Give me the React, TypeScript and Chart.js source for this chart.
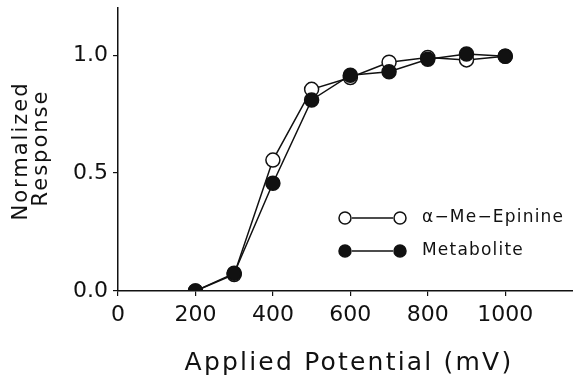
import React, { useEffect, useRef } from "react";
import { Chart, registerables } from "chart.js";

Chart.register(...registerables);

const potentials = [200, 300, 400, 500, 600, 700, 800, 900, 1000];
const epinine = [0, 0.07, 0.555, 0.855, 0.905, 0.97, 0.99, 0.98, 0.995];
const metabolite = [0, 0.075, 0.457, 0.81, 0.915, 0.93, 0.983, 1.005, 0.995];
const xTicks = [0, 200, 400, 600, 800, 1000];
const yTicks = [0, 0.5, 1.0];
const seriesNames = ["\u03b1\u2212Me\u2212Epinine", "Metabolite"];
const xTitle = "Applied Potential (mV)";
const yTitle = ["Normalized", "Response"];

const FONT = "'DejaVu Sans', sans-serif";
const INK = "#111";

const textPlugin = {
  id: "manualText",
  afterDraw(chart: any) {
    const ctx = chart.ctx;
    ctx.save();
    // legend
    const rows = [
      { y: 218, fill: "#fff", label: seriesNames[0] },
      { y: 251, fill: INK, label: seriesNames[1] },
    ];
    rows.forEach((r) => {
      ctx.strokeStyle = INK;
      ctx.lineWidth = 1.5;
      ctx.beginPath();
      ctx.moveTo(352, r.y);
      ctx.lineTo(393, r.y);
      ctx.stroke();
      [345, 400].forEach((cx) => {
        ctx.beginPath();
        ctx.arc(cx, r.y, 6, 0, Math.PI * 2);
        ctx.fillStyle = r.fill;
        ctx.fill();
        ctx.stroke();
      });
      ctx.fillStyle = INK;
      ctx.font = `17px ${FONT}`;
      (ctx as any).letterSpacing = "1.2px";
      ctx.textBaseline = "middle";
      ctx.textAlign = "left";
      ctx.fillText(r.label, 422, r.y);
    });
    // x title
    ctx.fillStyle = INK;
    ctx.font = `25px ${FONT}`;
    (ctx as any).letterSpacing = "2.2px";
    ctx.textAlign = "center";
    ctx.textBaseline = "alphabetic";
    ctx.fillText(xTitle, 349, 370);
    // y title
    ctx.font = `21px ${FONT}`;
    (ctx as any).letterSpacing = "2px";
    [
      { t: yTitle[0], x: 27, y: 151 },
      { t: yTitle[1], x: 47, y: 148 },
    ].forEach((l) => {
      ctx.save();
      ctx.translate(l.x, l.y);
      ctx.rotate(-Math.PI / 2);
      ctx.fillText(l.t, 0, 0);
      ctx.restore();
    });
    ctx.restore();
  },
};

export default function App() {
  const ref = useRef<HTMLCanvasElement | null>(null);

  useEffect(() => {
    document.body.style.margin = "0";
    const canvas = ref.current!;
    const chart = new Chart(canvas, {
      type: "line",
      data: {
        datasets: [
          {
            label: seriesNames[0],
            data: potentials.map((x, i) => ({ x, y: epinine[i] })),
            borderColor: INK,
            borderWidth: 1.5,
            pointRadius: 7,
            pointBackgroundColor: "#fff",
            pointBorderColor: INK,
            pointBorderWidth: 1.5,
            order: 1,
          },
          {
            label: seriesNames[1],
            data: potentials.map((x, i) => ({ x, y: metabolite[i] })),
            borderColor: INK,
            borderWidth: 1.5,
            pointRadius: 7,
            pointBackgroundColor: INK,
            pointBorderColor: INK,
            pointBorderWidth: 1.5,
            order: 0,
          },
        ],
      },
      options: {
        responsive: false,
        animation: false,
        layout: { autoPadding: false, padding: { top: 8, left: 0, right: 0, bottom: 0 } },
        plugins: {
          legend: { display: false },
          tooltip: { enabled: false },
        },
        scales: {
          x: {
            type: "linear",
            min: 0,
            max: 1175,
            afterBuildTicks: (s: any) => {
              s.ticks = xTicks.map((v) => ({ value: v }));
            },
            afterFit: (s: any) => {
              s.height = 87;
              s.paddingLeft = 0;
              s.paddingRight = 0;
            },
            grid: {
              display: true,
              drawOnChartArea: false,
              drawTicks: true,
              tickLength: 5,
              color: INK,
              lineWidth: 1.2,
            },
            border: { display: true, color: INK, width: 1.5 },
            ticks: {
              color: INK,
              font: { family: FONT, size: 22 },
              padding: 6,
              maxRotation: 0,
              callback: (v: any) => String(v),
            },
            title: { display: false, text: xTitle },
          },
          y: {
            min: 0,
            max: 1.2,
            afterBuildTicks: (s: any) => {
              s.ticks = yTicks.map((v) => ({ value: v }));
            },
            afterFit: (s: any) => {
              s.width = 118;
              s.paddingTop = 0;
              s.paddingBottom = 0;
            },
            grid: {
              display: true,
              drawOnChartArea: false,
              drawTicks: true,
              tickLength: 5,
              color: INK,
              lineWidth: 1.2,
            },
            border: { display: true, color: INK, width: 1.5 },
            ticks: {
              color: INK,
              font: { family: FONT, size: 22 },
              padding: 5,
              callback: (v: any) => Number(v).toFixed(1),
            },
            title: { display: false, text: yTitle },
          },
        },
      },
      plugins: [textPlugin],
    });
    return () => chart.destroy();
  }, []);

  return (
    <canvas
      ref={ref}
      width={573}
      height={378}
      style={{ position: "absolute", left: 0, top: 0, display: "block" }}
    />
  );
}
